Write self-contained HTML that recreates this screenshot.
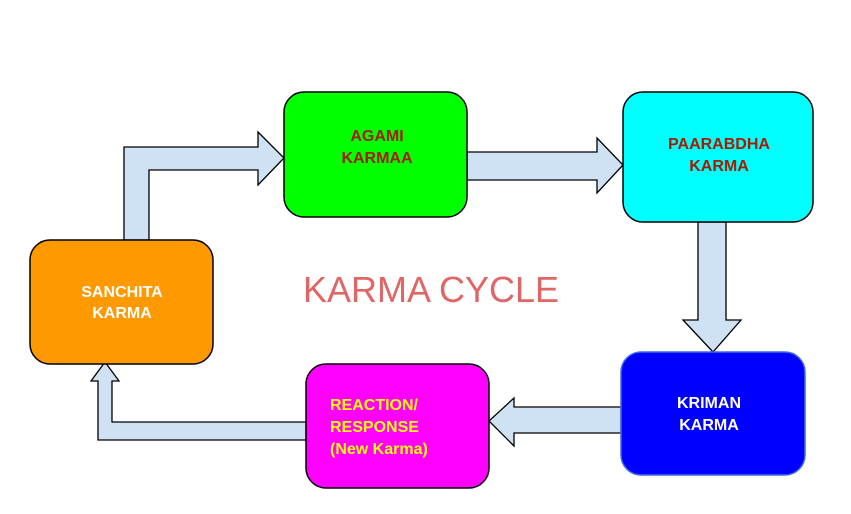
<!DOCTYPE html>
<html><head><style>
body{margin:0;background:#fff;}
svg text{font-family:"Liberation Sans",Arial,sans-serif;font-weight:bold;}
</style></head><body>
<svg width="851" height="509" viewBox="0 0 851 509" xmlns="http://www.w3.org/2000/svg">
<g fill="#cfe2f3" stroke="#000" stroke-width="1.3">
<polygon points="124,240 124,147 258,147 258,132 284,158 258,185 258,170 149,170 149,240"/>
<polygon points="467,152 597,152 597,138 623,165 597,193 597,180 467,180"/>
<polygon points="698,222 726,222 726,320 741,320 713,352 683,320 698,320"/>
<polygon points="621,407 514,407 514,398 489,421 514,446 514,433 621,433"/>
<polygon points="306,422 112,422 112,381 119,381 105,362 91,381 98,381 98,440 306,440"/>
</g>
<g stroke="#000" stroke-width="1.5">
<rect x="30" y="240" width="183" height="124" rx="20" fill="#ff9900"/>
<rect x="284" y="92" width="183" height="125" rx="20" fill="#00ff00"/>
<rect x="623" y="92" width="190" height="130" rx="20" fill="#00ffff"/>
<rect x="306" y="364" width="183" height="124" rx="20" fill="#ff00ff"/>
</g>
<rect x="621" y="352" width="184" height="123" rx="20" fill="#0000ff" stroke="#3d6de0" stroke-width="1.5"/>
<g font-size="16" text-anchor="middle">
<text x="122" y="297" fill="#fff">SANCHITA</text>
<text x="122" y="318" fill="#fff">KARMA</text>
<text x="377" y="141" fill="#a61c00">AGAMI</text>
<text x="377" y="163" fill="#a61c00">KARMAA</text>
<text x="719" y="149" fill="#a61c00">PAARABDHA</text>
<text x="719" y="171" fill="#a61c00">KARMA</text>
<text x="709" y="408" fill="#fff">KRIMAN</text>
<text x="709" y="430" fill="#fff">KARMA</text>
</g>
<g font-size="16" fill="#ffff00">
<text x="330" y="410">REACTION/</text>
<text x="330" y="432">RESPONSE</text>
<text x="330" y="454">(New Karma)</text>
</g>
<text x="431" y="302" font-size="36" fill="#e06666" text-anchor="middle" style="font-weight:normal" textLength="256">KARMA CYCLE</text>
</svg>
</body></html>
